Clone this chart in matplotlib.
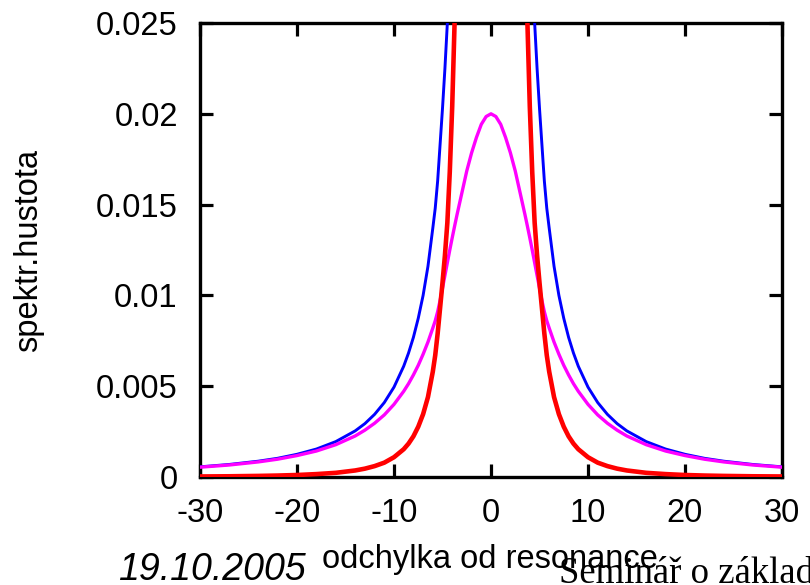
import matplotlib
matplotlib.use("Agg")
import matplotlib.pyplot as plt

# x positions (symmetric grid, right half)
x_pos = [0, 0.5, 1, 1.5, 2, 2.5, 3, 3.25, 3.5, 3.75, 4, 4.25, 4.5, 4.75, 5, 5.25,
         5.5, 5.75, 6, 6.5, 7, 7.5, 8, 8.5, 9, 10, 11, 12, 13, 14, 16, 18, 20,
         22, 24, 27, 30]

magenta_pos = [0.02, 0.01985, 0.01942, 0.0187, 0.01785, 0.01685, 0.01565, 0.01505,
               0.01445, 0.01382, 0.01317, 0.0125, 0.0118, 0.0111, 0.0104, 0.00972,
               0.0091, 0.0086, 0.0082, 0.00743, 0.00676, 0.00615, 0.00562, 0.00514,
               0.00472, 0.004, 0.00342, 0.00296, 0.00258, 0.00226, 0.00178, 0.00143,
               0.00118, 0.00098, 0.00083, 0.00066, 0.00054]

blue_pos = [0.5, 0.4, 0.25, 0.154, 0.1, 0.069, 0.05, 0.0435, 0.038, 0.0345,
            0.031, 0.0278, 0.025, 0.0225, 0.0203, 0.0183, 0.0163, 0.0148,
            0.0137, 0.0116, 0.01, 0.00874, 0.00769, 0.00683, 0.0061, 0.00495,
            0.0041, 0.00345, 0.00294, 0.00254, 0.00195, 0.00154, 0.00125, 0.00103,
            0.00087, 0.00069, 0.00056]

red_pos = [2.2, 1.52, 0.701, 0.315, 0.1546, 0.0837, 0.0493, 0.0388, 0.031, 0.0251,
           0.0204, 0.0168, 0.014, 0.0122, 0.0107, 0.0093, 0.0079, 0.0067,
           0.0058, 0.0044, 0.00346, 0.00277, 0.00224, 0.00184, 0.00153, 0.00109,
           0.00079, 0.0006, 0.00046, 0.00036, 0.00023, 0.00016, 0.00011, 0.00008,
           0.00006, 0.00004, 0.00003]

x_vals = [-v for v in x_pos[:0:-1]] + x_pos
magenta = magenta_pos[:0:-1] + magenta_pos
blue = blue_pos[:0:-1] + blue_pos
red = red_pos[:0:-1] + red_pos

xticks = [-30, -20, -10, 0, 10, 20, 30]
yticks = [0, 0.005, 0.01, 0.015, 0.02, 0.025]
ytick_labels = ["0", "0.005", "0.01", "0.015", "0.02", "0.025"]

plt.rcParams['font.family'] = ['Liberation Sans', 'DejaVu Sans']

fig = plt.figure(figsize=(8.1, 5.85), dpi=100)
ax = fig.add_axes([200/810, 1-477/585, 582/810, 454/585])

ax.plot(x_vals, blue, color='#0000ff', lw=2.1, zorder=3)
ax.plot(x_vals, magenta, color='#ff00ff', lw=2.4, zorder=3)
ax.plot(x_vals, red, color='#ff0000', lw=3.3, zorder=4)

ax.set_xlim(-30, 30)
ax.set_ylim(0, 0.025)
ax.set_xticks(xticks)
ax.set_xticklabels([str(t) for t in xticks])
ax.set_yticks(yticks)
ax.set_yticklabels(ytick_labels)
ax.tick_params(direction='in', length=9.5, width=2.3, labelsize=23.5, pad=16,
               top=True, right=True, colors='black')
ax.tick_params(axis='x', pad=15)
for s in ax.spines.values():
    s.set_linewidth(2.4)

ax.set_ylabel("spektr.hustota", fontsize=23.5)
ax.yaxis.set_label_coords(-(200 - 44) / 582, 0.5)

fig.text(118/810, 1-580/585, "19.10.2005", fontsize=27, style='italic',
         ha='left', va='baseline')
fig.text(322/810, 1-568/585, "odchylka od resonance", fontsize=23.5,
         ha='left', va='baseline')
fig.text(559/810, 1-583/585, "Seminář o základ", fontsize=26.5,
         family=['Liberation Serif', 'DejaVu Serif'], ha='left', va='baseline')

fig.savefig("out.png", dpi=100)
